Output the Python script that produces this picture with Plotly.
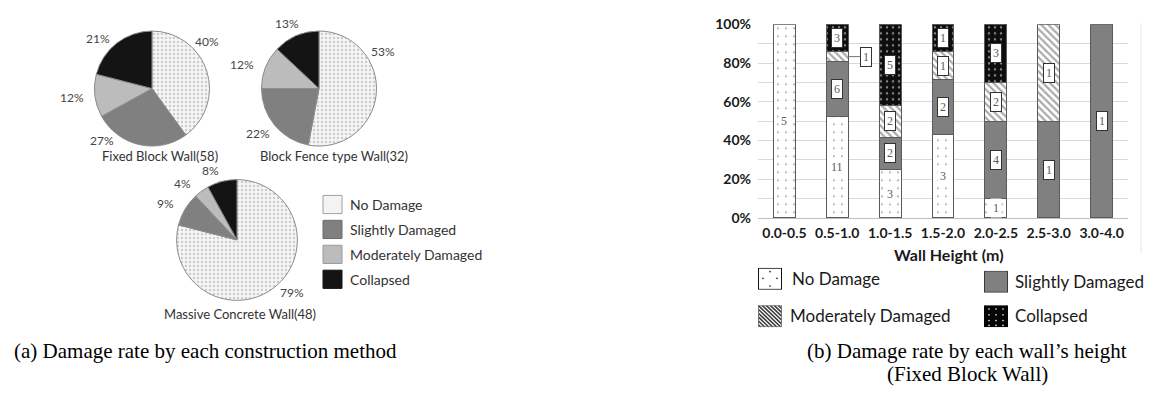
import base64
import plotly.graph_objects as go

W, H = 1160, 409

# ---------------- (a) damage rate by construction method ----------------
damage_levels = ["No Damage", "Slightly Damaged", "Moderately Damaged", "Collapsed"]
fixed_block_pct = [40, 27, 12, 21]
block_fence_pct = [53, 22, 12, 13]
massive_concrete_pct = [79, 9, 4, 8]
pie_titles = ["Fixed Block Wall(58)", "Block Fence type Wall(32)", "Massive Concrete Wall(48)"]

# ---------------- (b) damage rate by wall height (fixed block wall) -----
height_bins = ["0.0-0.5", "0.5-1.0", "1.0-1.5", "1.5-2.0", "2.0-2.5", "2.5-3.0", "3.0-4.0"]
no_damage_cnt = [5, 11, 3, 3, 1, 0, 0]
slightly_cnt = [0, 6, 2, 2, 4, 1, 1]
moderately_cnt = [0, 1, 2, 1, 2, 1, 0]
collapsed_cnt = [0, 3, 5, 1, 3, 0, 0]
y_tick_vals = [0, 20, 40, 60, 80, 100]

# ---------------- layout helpers (pixel -> paper) ----------------
def px(x):
    return x / W


def py(y):
    return 1 - y / H


# pie geometry: centre x, centre y, radius (px)
pie_geom = [(152, 83, 60), (319, 83, 60), (237, 241, 63)]
# percentage label anchor points per pie, in damage_levels order
pie_label_xy = [
    [(207, 34), (102, 137), (72, 92), (98, 31)],
    [(383, 44), (258, 130), (242, 58), (287, 15)],
    [(292, 296), (165, 203), (182, 182), (210, 168)],
]
pie_title_xy = [(160, 153), (334, 153), (240, 318)]

pie_colors = ["#f3f3f3", "#808080", "#bcbcbc", "#141414"]
SANS = "Lato"
SERIF = "Liberation Serif"

fig = go.Figure()
annotations = []
shapes = []
images = []

for vals, (cx, cy, r), lab_xy, title, txy in zip(
    [fixed_block_pct, block_fence_pct, massive_concrete_pct],
    pie_geom, pie_label_xy, pie_titles, pie_title_xy,
):
    fig.add_trace(go.Pie(
        values=vals,
        labels=damage_levels,
        sort=False,
        direction="clockwise",
        rotation=0,
        textinfo="none",
        showlegend=False,
        domain=dict(x=[px(cx - r), px(cx + r)], y=[py(cy + r), py(cy - r)]),
        marker=dict(
            colors=pie_colors,
            line=dict(color="#8c8c8c", width=1),
            pattern=dict(
                shape=[".", "", "", ""],
                fgcolor=["#cdcdcd", "#808080", "#bcbcbc", "#141414"],
                bgcolor=["#f6f6f6", "#808080", "#bcbcbc", "#141414"],
                size=4, solidity=0.3,
            ),
        ),
    ))
    for v, (lx, ly) in zip(vals, lab_xy):
        annotations.append(dict(
            x=px(lx), y=py(ly), xref="paper", yref="paper", showarrow=False,
            text=f"{v}%", font=dict(family=SANS, size=12, color="#454545"),
            xanchor="center", yanchor="middle",
        ))
    annotations.append(dict(
        x=px(txy[0]), y=py(txy[1]), xref="paper", yref="paper", showarrow=False,
        text=title, font=dict(family=SANS, size=13, color="#333333"),
        xanchor="center", yanchor="middle",
    ))

# legend keys for the pies
pie_key_x0, pie_key_size = 323, 19
pie_key_rows = [204, 230, 256, 282]
pie_key_border = ["#a0a0a0", "#6a6a6a", "#9a9a9a", "#141414"]
for name, col, bcol, ry in zip(damage_levels, pie_colors, pie_key_border, pie_key_rows):
    shapes.append(dict(
        type="rect", xref="paper", yref="paper",
        x0=px(pie_key_x0), x1=px(pie_key_x0 + pie_key_size),
        y0=py(ry + pie_key_size / 2), y1=py(ry - pie_key_size / 2),
        fillcolor=col, line=dict(color=bcol, width=1),
    ))
    annotations.append(dict(
        x=px(348), y=py(ry), xref="paper", yref="paper", showarrow=False,
        text=name, font=dict(family=SANS, size=14, color="#333333"),
        xanchor="left", yanchor="middle",
    ))

# ---------------- stacked percentage bars ----------------
bar_series = [
    ("No Damage", no_damage_cnt,
     dict(shape=".", bgcolor="#ffffff", fgcolor="#555555", size=8, solidity=0.06)),
    ("Slightly Damaged", slightly_cnt,
     dict(shape="", bgcolor="#808080", fgcolor="#808080")),
    ("Moderately Damaged", moderately_cnt,
     dict(shape="\\", bgcolor="#ffffff", fgcolor="#555555", size=5, solidity=0.45)),
    ("Collapsed", collapsed_cnt,
     dict(shape=".", bgcolor="#0d0d0d", fgcolor="#ffffff", size=6, solidity=0.12)),
]
bar_fill = {"No Damage": "#ffffff", "Slightly Damaged": "#808080",
            "Moderately Damaged": "#ffffff", "Collapsed": "#0d0d0d"}

for name, cnt, pat in bar_series:
    fig.add_trace(go.Bar(
        x=height_bins, y=[c if c else None for c in cnt], name=name,
        marker=dict(color=bar_fill[name], line=dict(color="#5a5a5a", width=1), pattern=pat),
        xaxis="x", yaxis="y", showlegend=False, hoverinfo="x+y+name",
    ))

# count labels placed at the middle of each stacked segment
totals = [sum(s[1][i] for s in bar_series) for i in range(len(height_bins))]
outside_labels = {("0.5-1.0", "Moderately Damaged")}
for i, cat in enumerate(height_bins):
    base = 0.0
    for name, cnt, _ in bar_series:
        c = cnt[i]
        if not c:
            continue
        share = 100.0 * c / totals[i]
        mid = base + share / 2
        base += share
        boxed = name != "No Damage"
        ann = dict(
            x=cat, y=mid, xref="x", yref="y", text=str(c),
            font=dict(family=SERIF, size=12, color="#5a5a5a"),
            bgcolor="#ffffff", borderpad=2,
            bordercolor="#333333" if boxed else "rgba(0,0,0,0)", borderwidth=1,
            showarrow=False, xanchor="center", yanchor="middle",
        )
        if (cat, name) in outside_labels:
            ann.update(x=i + 0.21, showarrow=True, arrowhead=0, arrowwidth=1,
                       arrowcolor="#777777", ax=12, ay=0, xanchor="left")
        annotations.append(ann)

annotations.append(dict(
    x=px(949), y=py(256), xref="paper", yref="paper", showarrow=False,
    text="<b>Wall Height (m)</b>", font=dict(family=SANS, size=16, color="#1a1a1a"),
    xanchor="center", yanchor="middle",
))

# legend keys for the bars (patterned swatches drawn as small svg tiles)
def svg_uri(body, w=24, h=23):
    svg = (f'<svg xmlns="http://www.w3.org/2000/svg" width="{w}" height="{h}" '
           f'viewBox="0 0 {w} {h}">{body}</svg>')
    return "data:image/svg+xml;base64," + base64.b64encode(svg.encode()).decode()


def dots(points, color, r=1.0):
    return "".join(f'<circle cx="{x}" cy="{y}" r="{r}" fill="{color}"/>' for x, y in points)


hatch = "".join(
    f'<line x1="{k}" y1="0" x2="{k + 23}" y2="23" stroke="#3a3a3a" stroke-width="1.6"/>'
    for k in range(-24, 26, 4)
)
key_art = {
    "No Damage": ('<rect x="0.5" y="0.5" width="23" height="22" fill="#fff" stroke="#111"/>'
                  + dots([(12, 4), (5, 11), (19, 11), (12, 19)], "#333", 0.9)),
    "Slightly Damaged": '<rect x="0.5" y="0.5" width="23" height="22" fill="#808080" stroke="#3a3a3a"/>',
    "Moderately Damaged": ('<rect width="24" height="23" fill="#fff"/>' + hatch
                           + '<rect x="0.5" y="0.5" width="23" height="22" fill="none" stroke="#777"/>'),
    "Collapsed": ('<rect width="24" height="23" fill="#050505"/>'
                  + dots([(x, y) for x in (5, 12, 19) for y in (4, 10, 16, 21)], "#ddd", 0.9)),
}
# key box top-left and label start, per damage level
bar_key_pos = {
    "No Damage": ((758, 270), (790, 281)),
    "Slightly Damaged": ((984, 273), (1013, 284)),
    "Moderately Damaged": ((758, 309), (788, 320)),
    "Collapsed": ((984, 309), (1013, 320)),
}
for name in damage_levels:
    (kx, ky), (tx, ty) = bar_key_pos[name]
    images.append(dict(
        source=svg_uri(key_art[name]), xref="paper", yref="paper",
        x=px(kx), y=py(ky), sizex=24 / W, sizey=23 / H,
        xanchor="left", yanchor="top", sizing="stretch", layer="above",
    ))
    annotations.append(dict(
        x=px(tx), y=py(ty), xref="paper", yref="paper", showarrow=False,
        text=name, font=dict(family=SANS, size=17, color="#1a1a1a"),
        xanchor="left", yanchor="middle",
    ))

# figure captions
annotations += [
    dict(x=px(205), y=py(357), xref="paper", yref="paper", showarrow=False,
         text="(a) Damage rate by each construction method",
         font=dict(family=SERIF, size=21, color="#000000"), xanchor="center", yanchor="middle"),
    dict(x=px(967), y=py(357), xref="paper", yref="paper", showarrow=False,
         text="(b) Damage rate by each wall\u2019s height",
         font=dict(family=SERIF, size=21, color="#000000"), xanchor="center", yanchor="middle"),
    dict(x=px(967), y=py(381), xref="paper", yref="paper", showarrow=False,
         text="(Fixed Block Wall)",
         font=dict(family=SERIF, size=21, color="#000000"), xanchor="center", yanchor="middle"),
]

# faint chart-area frame on the right
shapes.append(dict(type="line", xref="paper", yref="paper",
                   x0=px(1141), x1=px(1141), y0=py(255), y1=py(15),
                   line=dict(color="#e6e6e6", width=1)))

fig.update_layout(
    width=W, height=H,
    margin=dict(l=0, r=0, t=0, b=0),
    paper_bgcolor="#ffffff", plot_bgcolor="#ffffff",
    showlegend=False,
    barmode="stack", barnorm="percent", bargap=0.584,
    xaxis=dict(
        domain=[px(758), px(1128)], anchor="y", type="category",
        tickfont=dict(family=SANS, size=14, color="#1a1a1a", weight="bold"),
        showline=True, linecolor="#bfbfbf", linewidth=1, ticks="",
        ticklabelstandoff=2, showgrid=False, fixedrange=True,
    ),
    yaxis=dict(
        domain=[py(218), py(16)], anchor="x", range=[0, 100],
        tickvals=y_tick_vals, ticktext=[f"{v}%" for v in y_tick_vals],
        tickfont=dict(family=SANS, size=14, color="#1a1a1a", weight="bold"),
        showgrid=True, gridcolor="#d9d9d9", gridwidth=1, zeroline=False,
        minor=dict(dtick=10, showgrid=True, gridcolor="#d9d9d9", gridwidth=1),
        ticks="", ticklabelstandoff=6, showline=False, fixedrange=True,
    ),
    annotations=annotations,
    shapes=shapes,
    images=images,
)

fig.write_html("out.html")
